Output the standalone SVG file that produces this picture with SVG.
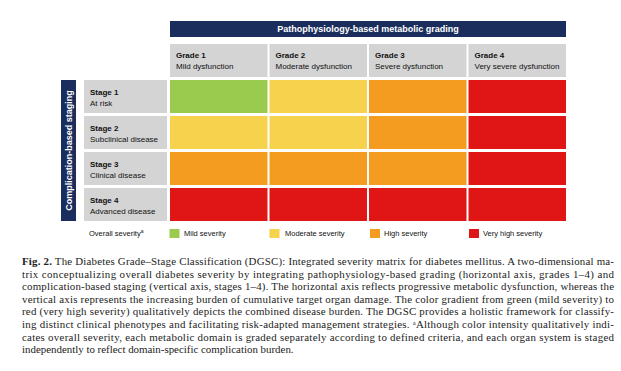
<svg xmlns="http://www.w3.org/2000/svg" width="621" height="371" viewBox="0 0 621 371">
<style>
.hd{fill:#1b2d5c}
.gr{fill:#d4d4d4}
.g{fill:#9bcb4e}.y{fill:#f6d24d}.o{fill:#f49c1f}.r{fill:#e01616}
.lb{font-family:"Liberation Sans",Arial,sans-serif;font-size:8px;fill:#111}
.b{font-weight:bold}
.wt{font-family:"Liberation Sans",Arial,sans-serif;font-size:9px;font-weight:bold;fill:#fff}
.lg{font-family:"Liberation Sans",Arial,sans-serif;font-size:7.5px;fill:#111}
.cap{font-family:"Liberation Serif","Times New Roman",serif;font-size:10.9px;fill:#222}
</style>
<rect width="621" height="371" fill="#fff"/>
<g id="header-grading">
<rect class="hd" x="170" y="21" width="396" height="16"/>
<text class="wt" x="368" y="32.3" text-anchor="middle">Pathophysiology-based metabolic grading</text>
</g>
<g id="header-staging">
<rect class="hd" x="61" y="80" width="15" height="141"/>
<text class="wt" transform="translate(71.5,150.5) rotate(-90)" text-anchor="middle">Complication-based staging</text>
</g>
<g id="grade1"><rect class="gr" x="170" y="44" width="97.5" height="33"/><text class="lb b" x="176" y="58">Grade 1</text><text class="lb" x="176" y="69">Mild dysfunction</text></g>
<g id="grade2"><rect class="gr" x="269.5" y="44" width="97.5" height="33"/><text class="lb b" x="275.5" y="58">Grade 2</text><text class="lb" x="275.5" y="69">Moderate dysfunction</text></g>
<g id="grade3"><rect class="gr" x="369" y="44" width="97.5" height="33"/><text class="lb b" x="375" y="58">Grade 3</text><text class="lb" x="375" y="69">Severe dysfunction</text></g>
<g id="grade4"><rect class="gr" x="468.5" y="44" width="97.5" height="33"/><text class="lb b" x="474.5" y="58">Grade 4</text><text class="lb" x="474.5" y="69">Very severe dysfunction</text></g>
<g id="stage1"><rect class="gr" x="84" y="80" width="83" height="33"/><text class="lb b" x="90" y="95">Stage 1</text><text class="lb" x="90" y="105.5">At risk</text></g>
<g id="stage2"><rect class="gr" x="84" y="116" width="83" height="33"/><text class="lb b" x="90" y="131">Stage 2</text><text class="lb" x="90" y="141.5">Subclinical disease</text></g>
<g id="stage3"><rect class="gr" x="84" y="152" width="83" height="33"/><text class="lb b" x="90" y="167">Stage 3</text><text class="lb" x="90" y="177.5">Clinical disease</text></g>
<g id="stage4"><rect class="gr" x="84" y="188" width="83" height="33"/><text class="lb b" x="90" y="203">Stage 4</text><text class="lb" x="90" y="213.5">Advanced disease</text></g>
<g id="matrix">
<g id="cell-s1g1"><rect class="g" x="170" y="80" width="97.5" height="33"/></g>
<g id="cell-s1g2"><rect class="y" x="269.5" y="80" width="97.5" height="33"/></g>
<g id="cell-s1g3"><rect class="o" x="369" y="80" width="97.5" height="33"/></g>
<g id="cell-s1g4"><rect class="r" x="468.5" y="80" width="97.5" height="33"/></g>
<g id="cell-s2g1"><rect class="y" x="170" y="116" width="97.5" height="33"/></g>
<g id="cell-s2g2"><rect class="y" x="269.5" y="116" width="97.5" height="33"/></g>
<g id="cell-s2g3"><rect class="o" x="369" y="116" width="97.5" height="33"/></g>
<g id="cell-s2g4"><rect class="r" x="468.5" y="116" width="97.5" height="33"/></g>
<g id="cell-s3g1"><rect class="o" x="170" y="152" width="97.5" height="33"/></g>
<g id="cell-s3g2"><rect class="o" x="269.5" y="152" width="97.5" height="33"/></g>
<g id="cell-s3g3"><rect class="o" x="369" y="152" width="97.5" height="33"/></g>
<g id="cell-s3g4"><rect class="r" x="468.5" y="152" width="97.5" height="33"/></g>
<g id="cell-s4g1"><rect class="r" x="170" y="188" width="97.5" height="33"/></g>
<g id="cell-s4g2"><rect class="r" x="269.5" y="188" width="97.5" height="33"/></g>
<g id="cell-s4g3"><rect class="r" x="369" y="188" width="97.5" height="33"/></g>
<g id="cell-s4g4"><rect class="r" x="468.5" y="188" width="97.5" height="33"/></g>
</g>
<g id="legend">
<text class="lg" x="89" y="236">Overall severity<tspan font-size="5" baseline-shift="super">a</tspan></text>
<rect class="g" x="169.5" y="229" width="10" height="9"/><text class="lg" x="184" y="236">Mild severity</text>
<rect class="y" x="269.5" y="229" width="10" height="9"/><text class="lg" x="285" y="236">Moderate severity</text>
<rect class="o" x="370" y="229" width="10" height="9"/><text class="lg" x="384" y="236">High severity</text>
<rect class="r" x="469" y="229" width="10" height="9"/><text class="lg" x="483" y="236">Very high severity</text>
</g>
<g id="caption" class="cap">
<text x="22" y="265" textLength="592" lengthAdjust="spacing"><tspan font-weight="bold">Fig. 2.</tspan> The Diabetes Grade–Stage Classification (DGSC): Integrated severity matrix for diabetes mellitus. A two-dimensional ma-</text>
<text x="22" y="277.6" textLength="592" lengthAdjust="spacing">trix conceptualizing overall diabetes severity by integrating pathophysiology-based grading (horizontal axis, grades 1–4) and</text>
<text x="22" y="290.2" textLength="592" lengthAdjust="spacing">complication-based staging (vertical axis, stages 1–4). The horizontal axis reflects progressive metabolic dysfunction, whereas the</text>
<text x="22" y="302.8" textLength="592" lengthAdjust="spacing">vertical axis represents the increasing burden of cumulative target organ damage. The color gradient from green (mild severity) to</text>
<text x="22" y="315.4" textLength="592" lengthAdjust="spacing">red (very high severity) qualitatively depicts the combined disease burden. The DGSC provides a holistic framework for classify-</text>
<text x="22" y="328" textLength="592" lengthAdjust="spacing">ing distinct clinical phenotypes and facilitating risk-adapted management strategies. <tspan font-size="6.5" baseline-shift="super">a</tspan>Although color intensity qualitatively indi-</text>
<text x="22" y="340.6" textLength="592" lengthAdjust="spacing">cates overall severity, each metabolic domain is graded separately according to defined criteria, and each organ system is staged</text>
<text x="22" y="353.2">independently to reflect domain-specific complication burden.</text>
</g>
</svg>
